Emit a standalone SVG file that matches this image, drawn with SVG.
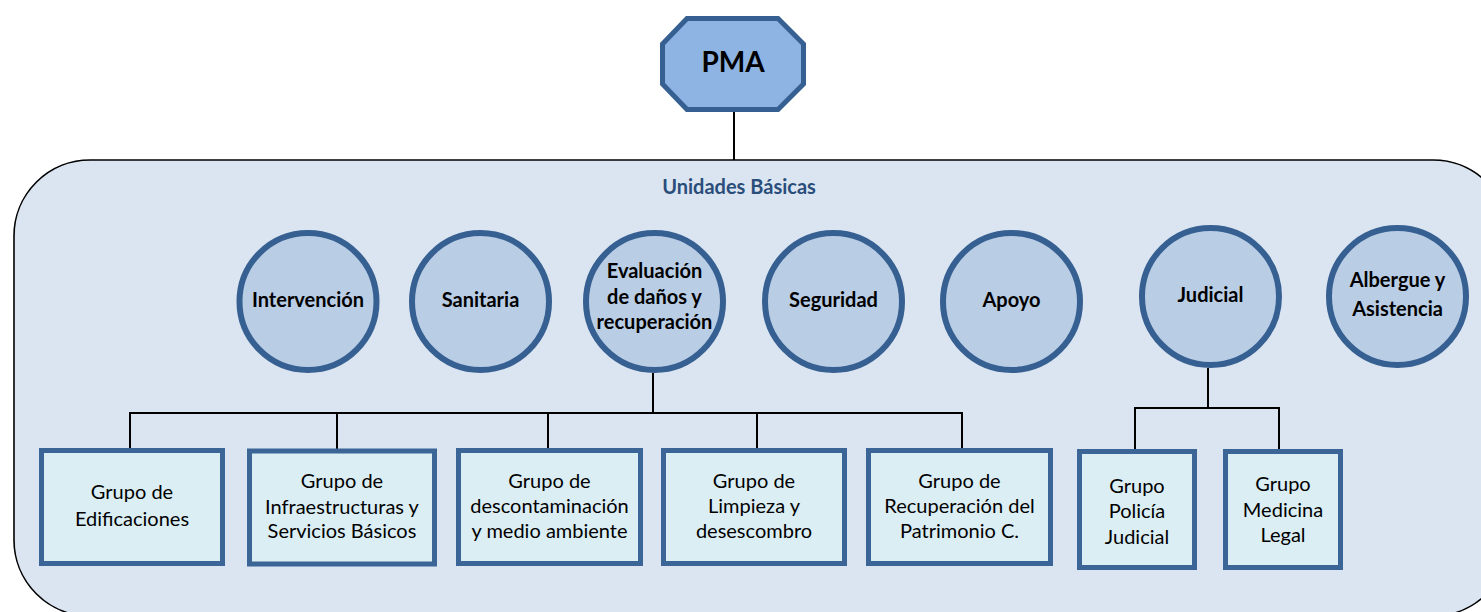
<svg xmlns="http://www.w3.org/2000/svg" width="1481" height="612" viewBox="0 0 1481 612">
<style>
.oct{fill:#8EB4E3;stroke:#376092;stroke-width:5;stroke-linejoin:miter}
.circ{fill:#B9CDE5;stroke:#376092;stroke-width:6}
.box{fill:#DBEEF4;stroke:#3A6596;stroke-width:5}
.ct{font-family:Lato,"Open Sans",sans-serif;font-weight:bold;font-size:20px;fill:#000;text-anchor:middle}
.bt{font-family:Lato,"Open Sans",sans-serif;font-size:20px;fill:#000;text-anchor:middle}
.ln{stroke:#000;stroke-width:2;fill:none}
</style>
<rect width="1481" height="612" fill="#fff"/>
<g id="container">
<rect x="14" y="160" width="1495" height="456" rx="76" ry="76" fill="#DBE5F1" stroke="#000" stroke-width="1.6"/>
<text x="739" y="194" font-family="Lato,'Open Sans',sans-serif" font-weight="bold" font-size="20" fill="#2A4D7A" text-anchor="middle">Unidades Básicas</text>
</g>
<g id="connectors">
<line class="ln" x1="734" y1="112" x2="734" y2="160"/>
<polyline class="ln" points="653,373 653,413"/>
<polyline class="ln" points="130,448 130,413 962,413 962,448"/>
<line class="ln" x1="337" y1="413" x2="337" y2="449"/>
<line class="ln" x1="548" y1="413" x2="548" y2="448"/>
<line class="ln" x1="757" y1="413" x2="757" y2="448"/>
<line class="ln" x1="1208" y1="368" x2="1208" y2="408"/>
<polyline class="ln" points="1135,449 1135,408 1279,408 1279,449"/>
</g>
<g id="pma">
<polygon class="oct" points="687,18.5 778,18.5 803.5,44 803.5,84 778,109.5 687,109.5 662.5,84 662.5,44"/>
<text x="733" y="72" font-family="Lato,'Open Sans',sans-serif" font-weight="bold" font-size="28" text-anchor="middle" fill="#000">PMA</text>
</g>
<g id="intervencion"><circle class="circ" cx="308" cy="301.5" r="68.5"/><text class="ct" x="308" y="307">Intervención</text></g>
<g id="sanitaria"><circle class="circ" cx="480.5" cy="301.5" r="68.5"/><text class="ct" x="480.5" y="307">Sanitaria</text></g>
<g id="evaluacion"><circle class="circ" cx="654.5" cy="301.5" r="68.5"/><text class="ct" x="654.5" y="278">Evaluación</text><text class="ct" x="654.5" y="304">de daños y</text><text class="ct" x="654.5" y="329">recuperación</text></g>
<g id="seguridad"><circle class="circ" cx="833.5" cy="301.5" r="68.5"/><text class="ct" x="833.5" y="307">Seguridad</text></g>
<g id="apoyo"><circle class="circ" cx="1011.5" cy="301.5" r="68.5"/><text class="ct" x="1011.5" y="307">Apoyo</text></g>
<g id="judicial"><circle class="circ" cx="1210.5" cy="296.5" r="68.5"/><text class="ct" x="1210.5" y="302">Judicial</text></g>
<g id="albergue"><circle class="circ" cx="1397.5" cy="296.5" r="68.5"/><text class="ct" x="1397.5" y="287">Albergue y</text><text class="ct" x="1397.5" y="316">Asistencia</text></g>
<g id="g-edificaciones"><rect class="box" x="41.5" y="450.5" width="181" height="113"/><text class="bt" x="132" y="499">Grupo de</text><text class="bt" x="132" y="526">Edificaciones</text></g>
<g id="g-infraestructuras"><rect class="box" x="249.5" y="451" width="185" height="113"/><text class="bt" x="342" y="488">Grupo de</text><text class="bt" x="342" y="514">Infraestructuras y</text><text class="bt" x="342" y="538">Servicios Básicos</text></g>
<g id="g-descontaminacion"><rect class="box" x="458.5" y="450.5" width="182" height="113"/><text class="bt" x="549.5" y="488">Grupo de</text><text class="bt" x="549.5" y="513">descontaminación</text><text class="bt" x="549.5" y="538">y medio ambiente</text></g>
<g id="g-limpieza"><rect class="box" x="663.5" y="450.5" width="181" height="113"/><text class="bt" x="754" y="488">Grupo de</text><text class="bt" x="754" y="513">Limpieza y</text><text class="bt" x="754" y="538">desescombro</text></g>
<g id="g-patrimonio"><rect class="box" x="868.5" y="450.5" width="182" height="113"/><text class="bt" x="959.5" y="488">Grupo de</text><text class="bt" x="959.5" y="513">Recuperación del</text><text class="bt" x="959.5" y="538">Patrimonio C.</text></g>
<g id="g-policia"><rect class="box" x="1079.5" y="451.5" width="115" height="116"/><text class="bt" x="1137" y="493">Grupo</text><text class="bt" x="1137" y="518">Policía</text><text class="bt" x="1137" y="544">Judicial</text></g>
<g id="g-medicina"><rect class="box" x="1225.5" y="451.5" width="115" height="116"/><text class="bt" x="1283" y="491">Grupo</text><text class="bt" x="1283" y="517">Medicina</text><text class="bt" x="1283" y="542">Legal</text></g>
</svg>
